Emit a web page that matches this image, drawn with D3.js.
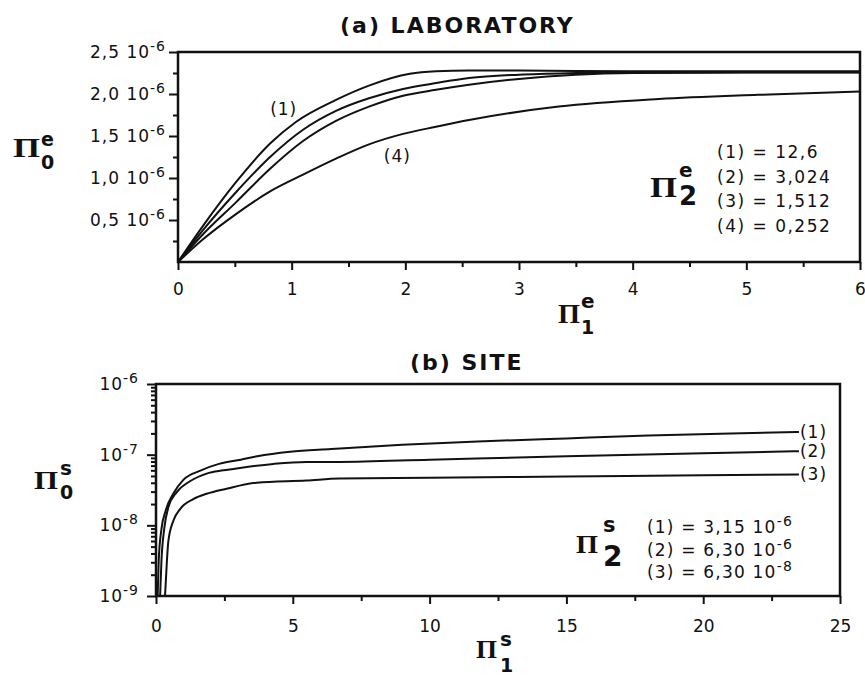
<!DOCTYPE html>
<html>
<head>
<meta charset="utf-8">
<script src="https://cdn.jsdelivr.net/npm/d3@7"></script>
<style>
  body { margin: 0; background: #fff; }
  text { font-family: "DejaVu Sans", sans-serif; fill: #111; }
  .tick line { stroke: #111; stroke-width: 2; }
</style>
</head>
<body>
<svg id="chart" width="865" height="675"></svg>
<script>
// ---- (a) LABORATORY : Pi1e on x, Pi0e on y (values in units of 1e-6)
const lab1X = [0, 0.22, 0.51, 0.81, 1.04, 1.39, 1.68, 2.04, 2.27, 2.56, 3.0, 4.0, 5.0, 6.0];
const lab1Y = [0, 0.43, 0.95, 1.41, 1.67, 1.93, 2.10, 2.24, 2.27, 2.28, 2.28, 2.27, 2.27, 2.27];
const lab2X = [0, 0.22, 0.51, 0.81, 1.10, 1.39, 1.68, 1.98, 2.27, 2.56, 3.0, 3.5, 4.0, 5.0, 6.0];
const lab2Y = [0, 0.38, 0.83, 1.25, 1.575, 1.80, 1.95, 2.06, 2.13, 2.19, 2.23, 2.25, 2.26, 2.26, 2.26];
const lab3X = [0, 0.22, 0.51, 0.81, 1.10, 1.39, 1.68, 1.98, 2.27, 2.56, 3.0, 3.5, 4.0, 5.0, 6.0];
const lab3Y = [0, 0.33, 0.71, 1.11, 1.44, 1.68, 1.85, 1.98, 2.05, 2.11, 2.18, 2.23, 2.25, 2.255, 2.255];
const lab4X = [0, 0.22, 0.51, 0.81, 1.10, 1.39, 1.68, 1.98, 2.27, 2.56, 3.35, 4.23, 5.1, 6.0];
const lab4Y = [0, 0.27, 0.57, 0.84, 1.04, 1.23, 1.40, 1.525, 1.61, 1.69, 1.85, 1.94, 1.99, 2.03];
const labYTicks = [0.5, 1.0, 1.5, 2.0, 2.5];
const labXTicks = [0, 1, 2, 3, 4, 5, 6];
const labLegend = ["(1) = 12,6", "(2) = 3,024", "(3) = 1,512", "(4) = 0,252"];

// ---- (b) SITE : Pi1s on x, Pi0s on y (log)
const site1X = [0.06, 0.1, 0.2, 0.35, 0.63, 1.0, 1.6, 2.3, 3.1, 3.7, 4.9, 6.4, 9, 12, 15, 18, 21, 23.5];
const site1Y = [1e-9, 3.2e-9, 8.9e-9, 1.6e-8, 2.8e-8, 4.4e-8, 5.9e-8, 7.4e-8, 8.5e-8, 9.5e-8, 1.1e-7, 1.2e-7, 1.38e-7, 1.55e-7, 1.7e-7, 1.86e-7, 2.0e-7, 2.09e-7];
const site2X = [0.15, 0.2, 0.3, 0.45, 0.76, 1.24, 1.85, 2.46, 3.07, 4.29, 5.5, 6.7, 10, 15, 20, 23.5];
const site2Y = [1e-9, 3.2e-9, 8.9e-9, 1.8e-8, 2.95e-8, 4.2e-8, 5.4e-8, 6.0e-8, 6.5e-8, 7.4e-8, 7.9e-8, 7.9e-8, 8.5e-8, 9.5e-8, 1.05e-7, 1.12e-7];
const site3X = [0.33, 0.4, 0.45, 0.63, 0.88, 1.36, 1.85, 2.58, 3.68, 5.5, 6.7, 10, 15, 20, 23.5];
const site3Y = [1e-9, 3.2e-9, 5.9e-9, 1.15e-8, 1.7e-8, 2.35e-8, 2.8e-8, 3.3e-8, 4.0e-8, 4.3e-8, 4.6e-8, 4.7e-8, 4.9e-8, 5.1e-8, 5.25e-8];
const siteYTicks = [1e-9, 1e-8, 1e-7, 1e-6];
const siteXTicks = [0, 5, 10, 15, 20, 25];
const siteLegend = [["(1) = 3,15 10", "-6"], ["(2) = 6,30 10", "-6"], ["(3) = 6,30 10", "-8"]];
const siteCurveNames = ["(1)", "(2)", "(3)"];

const svg = d3.select("#chart");

function zip(xs, ys) { return xs.map((x, i) => [x, ys[i]]); }

// Pi symbol with super/subscript
function piLabel(x, y, piSize, piW, sup, supX, supY, supSize, sub, subY, subSize) {
  const g = svg.append("g");
  g.append("text").attr("x", x).attr("y", y)
    .style("font-family", "'Liberation Serif', serif").attr("font-weight", "bold")
    .attr("font-size", piSize).attr("textLength", piW).attr("lengthAdjust", "spacingAndGlyphs")
    .text("Π");
  g.append("text").attr("x", supX).attr("y", supY).attr("font-weight", "bold")
    .attr("font-size", supSize).text(sup);
  g.append("text").attr("x", supX).attr("y", subY).attr("font-weight", "bold")
    .attr("font-size", subSize).text(sub);
}

// ================= panel (a) =================
const xa = d3.scaleLinear().domain([0, 6]).range([178, 860]);
const ya = d3.scaleLinear().domain([0, 2.5]).range([262, 52]);

svg.append("text").attr("x", 340).attr("y", 33)
  .attr("font-size", 22).attr("font-weight", "bold").attr("letter-spacing", 2)
  .text("(a) LABORATORY");

// minor ticks
svg.append("g").attr("transform", `translate(${xa(0)},0)`)
  .call(d3.axisLeft(ya).tickValues(d3.range(0.25, 2.5, 0.5)).tickSize(5).tickFormat(""))
  .call(g => g.select(".domain").remove());
svg.append("g").attr("transform", `translate(0,${ya(0)})`)
  .call(d3.axisBottom(xa).tickValues(d3.range(0.5, 6, 1)).tickSize(5).tickFormat(""))
  .call(g => g.select(".domain").remove());

// major ticks
svg.append("g").attr("transform", `translate(${xa(0)},0)`)
  .call(d3.axisLeft(ya).tickValues(labYTicks).tickSize(9).tickPadding(3)
    .tickFormat(d => d.toFixed(1).replace(".", ",") + " 10"))
  .call(g => g.select(".domain").remove())
  .call(g => g.selectAll(".tick text").attr("font-size", 17).attr("letter-spacing", 1)
    .append("tspan").attr("dy", "-0.5em").attr("font-size", 14).text("-6"));

svg.append("g").attr("transform", `translate(0,${ya(0)})`)
  .call(d3.axisBottom(xa).tickValues(labXTicks).tickSize(8).tickPadding(13).tickFormat(d3.format("d")))
  .call(g => g.select(".domain").remove())
  .call(g => g.selectAll(".tick text").attr("font-size", 17));

svg.append("rect").attr("x", xa(0)).attr("y", ya(2.5))
  .attr("width", xa(6) - xa(0)).attr("height", ya(0) - ya(2.5))
  .attr("fill", "none").attr("stroke", "#111").attr("stroke-width", 2.5);

const lineA = d3.line().x(d => xa(d[0])).y(d => ya(d[1])).curve(d3.curveMonotoneX);
[zip(lab1X, lab1Y), zip(lab2X, lab2Y), zip(lab3X, lab3Y), zip(lab4X, lab4Y)].forEach(s => {
  svg.append("path").datum(s).attr("d", lineA)
    .attr("fill", "none").attr("stroke", "#111").attr("stroke-width", 2);
});

svg.append("text").attr("x", xa(0.93)).attr("y", ya(1.82)).attr("text-anchor", "middle")
  .attr("dy", "0.35em").attr("font-size", 17).attr("letter-spacing", 1).text("(1)");
svg.append("text").attr("x", xa(1.93)).attr("y", ya(1.26)).attr("text-anchor", "middle")
  .attr("dy", "0.35em").attr("font-size", 17).attr("letter-spacing", 1).text("(4)");

svg.append("g").selectAll("text").data(labLegend).join("text")
  .attr("x", 717).attr("y", (d, i) => 158 + i * 24.7)
  .attr("font-size", 17).attr("letter-spacing", 1.5).text(d => d);

piLabel(650, 197, 30, 27, "e", 679, 177, 20, "2", 205, 26);
piLabel(13, 157, 28, 27, "e", 41, 146, 19, "0", 169, 19);
piLabel(558, 323, 28, 22, "e", 581, 308, 20, "1", 334, 19);

// ================= panel (b) =================
const xb = d3.scaleLinear().domain([0, 25]).range([156, 840]);
const yb = d3.scaleLog().domain([1e-9, 1e-6]).range([596, 384]);

svg.append("text").attr("x", 410).attr("y", 370)
  .attr("font-size", 22).attr("font-weight", "bold").attr("letter-spacing", 2)
  .text("(b) SITE");

svg.append("g").attr("transform", `translate(${xb(0)},0)`)
  .call(d3.axisLeft(yb).tickValues(yb.ticks().filter(v => siteYTicks.indexOf(v) < 0)).tickSize(5).tickFormat(""))
  .call(g => g.select(".domain").remove());
svg.append("g").attr("transform", `translate(0,${yb(1e-9)})`)
  .call(d3.axisBottom(xb).tickValues(d3.range(2.5, 25, 5)).tickSize(5).tickFormat(""))
  .call(g => g.select(".domain").remove());

svg.append("g").attr("transform", `translate(${xb(0)},0)`)
  .call(d3.axisLeft(yb).tickValues(siteYTicks).tickSize(9).tickPadding(8).tickFormat(() => "10"))
  .call(g => g.select(".domain").remove())
  .call(g => g.selectAll(".tick text").attr("font-size", 17).attr("letter-spacing", 1)
    .append("tspan").attr("dy", "-0.5em").attr("font-size", 14)
    .text(d => "-" + Math.round(-Math.log10(d))));

svg.append("g").attr("transform", `translate(0,${yb(1e-9)})`)
  .call(d3.axisBottom(xb).tickValues(siteXTicks).tickSize(8).tickPadding(16))
  .call(g => g.select(".domain").remove())
  .call(g => g.selectAll(".tick text").attr("font-size", 17));

svg.append("rect").attr("x", xb(0)).attr("y", yb(1e-6))
  .attr("width", xb(25) - xb(0)).attr("height", yb(1e-9) - yb(1e-6))
  .attr("fill", "none").attr("stroke", "#111").attr("stroke-width", 2.5);

const lineB = d3.line().x(d => xb(d[0])).y(d => yb(d[1])).curve(d3.curveMonotoneX);
const siteSeries = [zip(site1X, site1Y), zip(site2X, site2Y), zip(site3X, site3Y)];
siteSeries.forEach((s, i) => {
  svg.append("path").datum(s).attr("d", lineB)
    .attr("fill", "none").attr("stroke", "#111").attr("stroke-width", 2);
  const last = s[s.length - 1];
  svg.append("text").attr("x", xb(last[0]) + 1).attr("y", yb(last[1])).attr("dy", "0.35em")
    .attr("font-size", 17).attr("letter-spacing", 1).text(siteCurveNames[i]);
});

const leg = svg.append("g").selectAll("text").data(siteLegend).join("text")
  .attr("x", 647).attr("y", (d, i) => 533 + i * 22.5)
  .attr("font-size", 17).attr("letter-spacing", 1.2);
leg.append("tspan").text(d => d[0]);
leg.append("tspan").attr("dy", "-0.5em").attr("font-size", 14).text(d => d[1]);

piLabel(576, 553, 26, 22, "s", 603, 532, 21, "2", 566, 28);
piLabel(34, 489, 26, 24, "s", 60, 475, 20, "0", 499, 19);
piLabel(476, 658, 26, 21, "s", 500, 646, 20, "1", 672, 19);
</script>
</body>
</html>
